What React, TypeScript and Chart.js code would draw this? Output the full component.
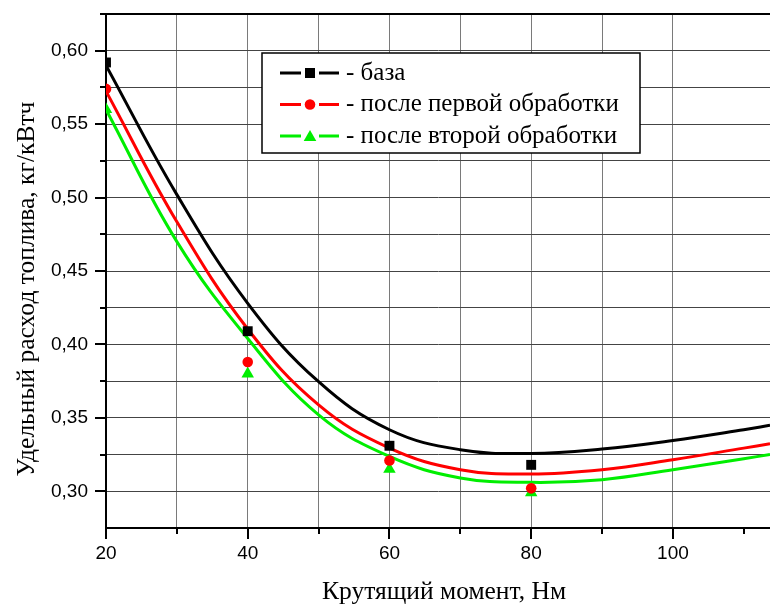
import React, { useEffect, useRef } from "react";
import { Chart, registerables } from "chart.js";

Chart.register(...registerables);

// Measured points
const pointX = [20, 40, 60, 80];
const basePoints = [0.592, 0.409, 0.331, 0.318];
const firstPoints = [0.574, 0.388, 0.321, 0.302];
const secondPoints = [0.560, 0.380, 0.315, 0.299];

// Fitted curves
const curveX = [20, 30, 40, 50, 60, 70, 80, 90, 100, 110, 113.7];
const baseCurve = [0.590, 0.502, 0.428, 0.3746, 0.3419, 0.3283, 0.3258, 0.3288, 0.3346, 0.3419, 0.3449];
const firstCurve = [0.5725, 0.4835, 0.4105, 0.3588, 0.3294, 0.3147, 0.3118, 0.3147, 0.3215, 0.3294, 0.3324];
const secondCurve = [0.560, 0.470, 0.404, 0.352, 0.3237, 0.3091, 0.3061, 0.3079, 0.3147, 0.3222, 0.3250];

const seriesNames = ["- база", "- после первой обработки", "- после второй обработки"];
const seriesColors = ["#000000", "#ff0000", "#00ee00"];
const seriesMarkers = ["rect", "circle", "triangle"];

const xTitle = "Крутящий момент, Нм";
const yTitle = "Удельный расход топлива, кг/кВтч";

const X_MIN = 20;
const X_MAX = 113.7;
const Y_MIN = 0.275;
const Y_MAX = 0.625;

function drawMarker(ctx: CanvasRenderingContext2D, kind: string, x: number, y: number, color: string) {
  ctx.save();
  ctx.fillStyle = color;
  ctx.beginPath();
  if (kind === "rect") {
    ctx.rect(x - 5, y - 5, 10, 10);
  } else if (kind === "circle") {
    ctx.arc(x, y, 5.3, 0, Math.PI * 2);
  } else {
    ctx.moveTo(x, y - 6);
    ctx.lineTo(x + 6.3, y + 5);
    ctx.lineTo(x - 6.3, y + 5);
    ctx.closePath();
  }
  ctx.fill();
  ctx.restore();
}

const decorPlugin = {
  id: "decor",
  afterDraw(chart: any) {
    const ctx: CanvasRenderingContext2D = chart.ctx;
    const area = chart.chartArea;
    const xs = chart.scales.x;
    const ys = chart.scales.y;
    ctx.save();
    // top border
    ctx.strokeStyle = "#000";
    ctx.lineWidth = 2;
    ctx.beginPath();
    ctx.moveTo(area.left - 1, area.top);
    ctx.lineTo(area.right, area.top);
    ctx.stroke();
    // x ticks
    for (let v = 20; v <= 110; v += 10) {
      const px = Math.round(xs.getPixelForValue(v));
      const len = v % 20 === 0 ? 11 : 6;
      ctx.beginPath();
      ctx.moveTo(px, area.bottom);
      ctx.lineTo(px, area.bottom + len);
      ctx.stroke();
    }
    // y ticks
    for (let k = 0; k <= 13; k++) {
      const v = 0.3 + k * 0.025;
      if (v > Y_MAX + 1e-9) break;
      const py = Math.round(ys.getPixelForValue(v));
      const major = k % 2 === 0;
      ctx.beginPath();
      ctx.moveTo(area.left, py);
      ctx.lineTo(area.left - (major ? 11 : 6), py);
      ctx.stroke();
    }
    // axis titles
    ctx.fillStyle = "#000";
    ctx.font = "25.5px 'Liberation Serif'";
    ctx.textAlign = "center";
    ctx.textBaseline = "middle";
    ctx.fillText(xTitle, 444, 592);
    ctx.save();
    ctx.translate(27, 289);
    ctx.rotate(-Math.PI / 2);
    ctx.fillText(yTitle, 0, 0);
    ctx.restore();
    // legend
    const bx = 262, by = 53, bw = 378, bh = 100;
    ctx.fillStyle = "#fff";
    ctx.fillRect(bx, by, bw, bh);
    ctx.strokeStyle = "#000";
    ctx.lineWidth = 1.5;
    ctx.strokeRect(bx, by, bw, bh);
    const rows = [73, 104.5, 136];
    ctx.textAlign = "left";
    ctx.font = "25px 'Liberation Serif'";
    rows.forEach((ry, i) => {
      ctx.strokeStyle = seriesColors[i];
      ctx.lineWidth = 3;
      ctx.beginPath();
      ctx.moveTo(280, ry);
      ctx.lineTo(301, ry);
      ctx.moveTo(319, ry);
      ctx.lineTo(339, ry);
      ctx.stroke();
      drawMarker(ctx, seriesMarkers[i], 310, ry, seriesColors[i]);
      ctx.fillStyle = "#000";
      ctx.fillText(seriesNames[i], 346, ry);
    });
    ctx.restore();
  },
};

export default function App() {
  const ref = useRef<HTMLCanvasElement>(null);
  useEffect(() => {
    if (!ref.current) return;
    const curves = [baseCurve, firstCurve, secondCurve];
    const pts = [basePoints, firstPoints, secondPoints];
    const datasets: any[] = [];
    curves.forEach((c, i) => {
      datasets.push({
        label: seriesNames[i],
        data: curveX.map((x, j) => ({ x, y: c[j] })),
        showLine: true,
        borderColor: seriesColors[i],
        borderWidth: 3,
        pointRadius: 0,
        tension: 0.4,
        fill: false,
        order: 2,
      });
    });
    pts.forEach((p, i) => {
      datasets.push({
        label: seriesNames[i] + " pts",
        data: pointX.map((x, j) => ({ x, y: p[j] })),
        showLine: false,
        backgroundColor: seriesColors[i],
        borderColor: seriesColors[i],
        borderWidth: 0,
        pointStyle: seriesMarkers[i],
        pointRadius: i === 0 ? 7 : i === 1 ? 5.3 : 7.2,
        order: 1,
      });
    });
    const chart = new Chart(ref.current, {
      type: "scatter",
      data: { datasets },
      options: {
        responsive: false,
        animation: false,
        devicePixelRatio: 1,
        layout: { autoPadding: false, padding: { top: 14, right: 0, left: 0, bottom: 0 } },
        plugins: { legend: { display: false }, tooltip: { enabled: false } },
        scales: {
          x: {
            type: "linear",
            min: X_MIN,
            max: X_MAX,
            afterFit(scale: any) {
              scale.height = 79;
              scale.paddingRight = 0;
              scale.paddingLeft = 0;
            },
            ticks: {
              stepSize: 10,
              padding: 14,
              color: "#000",
              font: { family: "'Liberation Sans'", size: 19 },
              maxRotation: 0,
              autoSkip: false,
              callback: (v: any) => (Math.abs(v % 20) < 1e-6 ? String(v) : ""),
            },
            grid: {
              drawTicks: false,
              lineWidth: 1,
              color: (c: any) => {
                const v = c.tick ? c.tick.value : 0;
                return Math.abs(v / 10 - Math.round(v / 10)) < 1e-6 ? "#7a7a7a" : "rgba(0,0,0,0)";
              },
            },
            border: { color: "#000", width: 2 },
          },
          y: {
            type: "linear",
            min: Y_MIN,
            max: Y_MAX,
            afterFit(scale: any) {
              scale.width = 106;
              scale.paddingTop = 0;
              scale.paddingBottom = 0;
            },
            ticks: {
              stepSize: 0.025,
              padding: 18,
              color: "#000",
              font: { family: "'Liberation Sans'", size: 19 },
              autoSkip: false,
              callback: (v: any) => {
                const n = Number(v);
                if (Math.abs(n * 20 - Math.round(n * 20)) < 1e-6 && n > 0.29) {
                  return n.toFixed(2).replace(".", ",");
                }
                return "";
              },
            },
            grid: {
              drawTicks: false,
              lineWidth: 1,
              color: "#444",
            },
            border: { color: "#000", width: 2 },
          },
        },
      },
      plugins: [decorPlugin],
    });
    return () => chart.destroy();
  }, []);
  return (
    <div style={{ position: "absolute", left: 0, top: 0, width: 770, height: 607, background: "#fff" }}>
      <canvas ref={ref} width={770} height={607} style={{ display: "block" }} />
    </div>
  );
}
